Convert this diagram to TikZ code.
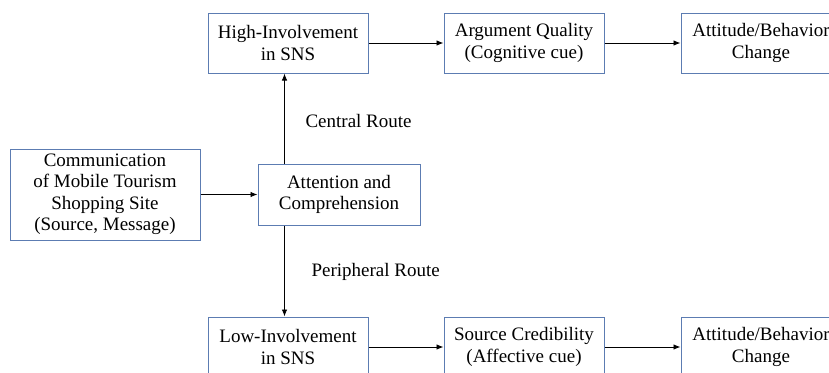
\documentclass[tikz,border=0pt]{standalone}
\usepackage{fontspec}
\setmainfont{Liberation Serif}
\usetikzlibrary{arrows.meta}
\definecolor{boxblue}{RGB}{92,124,178}

\begin{document}
\begin{tikzpicture}[x=1pt, y=-1pt, >={Latex[length=7pt,width=5.5pt]},
  every node/.style={font=\fontsize{19}{21.5}\selectfont, align=center},
  stage/.style={draw=boxblue, line width=1pt, rectangle, inner sep=0pt,
    minimum width=160pt, minimum height=60pt},
  link/.style={->, line width=0.9pt}]
  \useasboundingbox (0, 0) rectangle (829, 372);
  \node [stage, minimum width=190pt, minimum height=91pt] (comm) at (105, 194.5)
    {Communication\\of Mobile Tourism\\Shopping Site\\(Source, Message)};
  \node [stage, minimum width=162pt, minimum height=61pt] (attn) at (339, 194.5)
    {Attention and\\Comprehension};
  \node [stage] (high) at (288, 43) {High-Involvement\\in SNS};
  \node [stage] (arg) at (524, 43) {Argument Quality\\(Cognitive cue)};
  \node [stage] (atth) at (761, 43) {Attitude/Behavior\\Change};
  \node [stage] (low) at (288, 347) {Low-Involvement\\in SNS};
  \node [stage] (src) at (524, 347) {Source Credibility\\(Affective cue)};
  \node [stage] (attl) at (761, 347) {Attitude/Behavior\\Change};
  \node [anchor=west] (central) at (302, 121) {Central Route};
  \node [anchor=west] (peripheral) at (308, 272) {Peripheral Route};
  \coordinate (up) at ([xshift=27pt]attn.north west);
  \coordinate (down) at ([xshift=27pt]attn.south west);
  \draw [link] (comm) -- (attn);
  \draw [link] (up) -- (up |- high.south);
  \draw [link] (down) -- (down |- low.north);
  \draw [link] (high) -- (arg);
  \draw [link] (arg) -- (atth);
  \draw [link] (low) -- (src);
  \draw [link] (src) -- (attl);
\end{tikzpicture}
\end{document}
